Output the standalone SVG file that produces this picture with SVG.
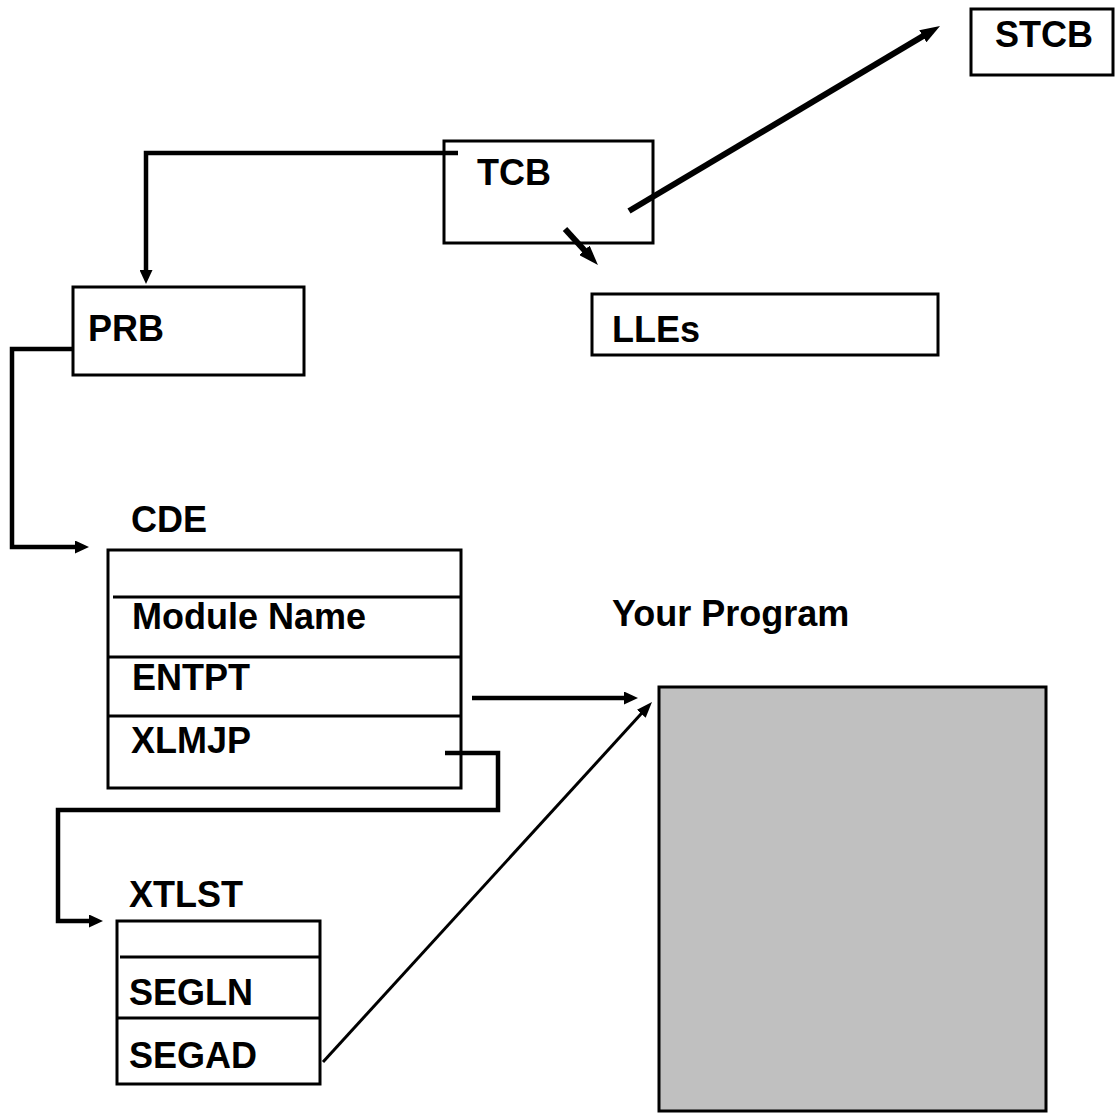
<svg xmlns="http://www.w3.org/2000/svg" width="1116" height="1116" viewBox="0 0 1116 1116">
<style>
.box{fill:#fff;stroke:#000;stroke-width:3}
.prog{fill:#c0c0c0;stroke:#000;stroke-width:3}
.div{stroke:#000;stroke-width:3;fill:none}
.t{font-family:"Liberation Sans",Arial,sans-serif;font-weight:bold;font-size:36px;fill:#000}
.c{fill:none;stroke:#000;stroke-width:4.5;stroke-linejoin:miter;stroke-linecap:butt}
.cw{fill:none;stroke:#000;stroke-width:6}
.ct{fill:none;stroke:#000;stroke-width:3}
</style>
<defs>
<marker id="ah" markerUnits="userSpaceOnUse" markerWidth="14" markerHeight="13" refX="4" refY="6.5" orient="auto"><path d="M0,0 L14,6.5 L0,13 z" fill="#000"/></marker>
<marker id="ahL" markerUnits="userSpaceOnUse" markerWidth="20" markerHeight="14" refX="6" refY="7" orient="auto"><path d="M0,0 L20,7 L0,14 z" fill="#000"/></marker>
<marker id="ahT" markerUnits="userSpaceOnUse" markerWidth="16" markerHeight="12" refX="5" refY="6" orient="auto"><path d="M0,0 L16,6 L0,12 z" fill="#000"/></marker>
</defs>
<rect width="1116" height="1116" fill="#fff"/>
<g id="stcb"><rect class="box" x="971" y="9" width="142" height="66"/><text class="t" x="995" y="47">STCB</text></g>
<g id="tcb"><rect class="box" x="444" y="141" width="209" height="102"/><text class="t" x="477" y="185">TCB</text></g>
<g id="prb"><rect class="box" x="73" y="287" width="231" height="88"/><text class="t" x="88" y="341">PRB</text></g>
<g id="lles"><rect class="box" x="592" y="294" width="346" height="61"/><text class="t" x="612" y="342">LLEs</text></g>
<g id="cde">
<text class="t" x="131" y="532">CDE</text>
<rect class="box" x="108" y="550" width="353" height="238"/>
<line class="div" x1="113" y1="597" x2="461" y2="597"/>
<line class="div" x1="108" y1="657" x2="461" y2="657"/>
<line class="div" x1="108" y1="716" x2="461" y2="716"/>
<text class="t" x="132" y="629">Module Name</text>
<text class="t" x="132" y="690">ENTPT</text>
<text class="t" x="131" y="753">XLMJP</text>
</g>
<g id="program"><text class="t" x="612" y="626">Your Program</text><rect class="prog" x="659" y="687" width="387" height="424"/></g>
<g id="xtlst">
<text class="t" x="129" y="907">XTLST</text>
<rect class="box" x="117" y="921" width="203" height="163"/>
<line class="div" x1="120" y1="957" x2="320" y2="957"/>
<line class="div" x1="117" y1="1018" x2="320" y2="1018"/>
<text class="t" x="129" y="1005">SEGLN</text>
<text class="t" x="129" y="1068">SEGAD</text>
</g>
<g id="connectors">
<path class="c" d="M458,153 H146 V274" marker-end="url(#ah)"/>
<path class="c" d="M73,349 H12 V547 H79" marker-end="url(#ah)"/>
<path class="c" d="M472,698 H628" marker-end="url(#ah)"/>
<path class="c" d="M445,753 H498 V810 H58 V921 H93" marker-end="url(#ah)"/>
<path class="ct" d="M323,1062 L644.6,710.1" marker-end="url(#ahT)"/>
<path class="cw" d="M629,211 L928,33.2" marker-end="url(#ahL)"/>
<path class="cw" d="M565,229 L588.5,254.7" marker-end="url(#ahL)"/>
</g>
</svg>
